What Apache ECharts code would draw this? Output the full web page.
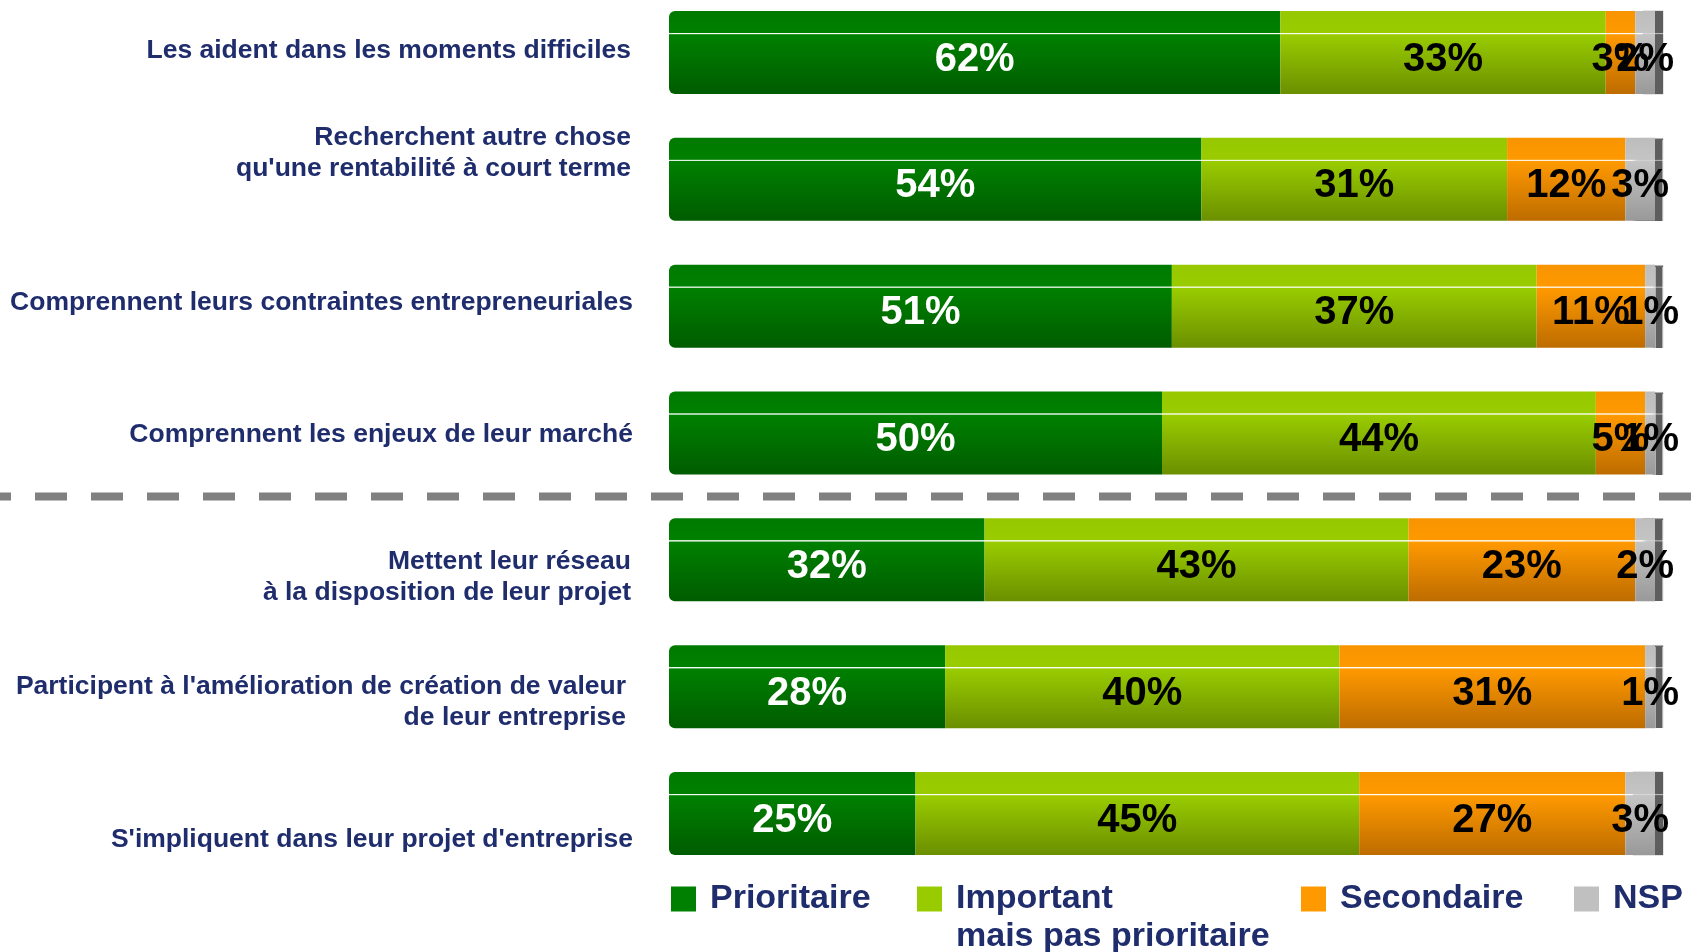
<!DOCTYPE html>
<html>
<head>
<meta charset="utf-8">
<script src="https://cdn.jsdelivr.net/npm/echarts@6/dist/echarts.min.js"></script>
<style>
  html, body { margin: 0; padding: 0; background: #fff; }
  #main { width: 1692px; height: 952px; }
</style>
</head>
<body>
<div id="main"></div>
<script>
// categories (top -> bottom)
const categories = [
  'Les aident dans les moments difficiles',
  'Recherchent autre chose\nqu\'une rentabilité à court terme',
  'Comprennent leurs contraintes entrepreneuriales',
  'Comprennent les enjeux de leur marché',
  'Mettent leur réseau\nà la disposition de leur projet',
  'Participent à l\'amélioration de création de valeur\nde leur entreprise',
  'S\'impliquent dans leur projet d\'entreprise'
]
const prioritaire = [62, 54, 51, 50, 32, 28, 25]
const important = [33, 31, 37, 44, 43, 40, 45]
const secondaire = [3, 12, 11, 5, 23, 31, 27]
const nsp = [2, 3, 1, 1, 2, 1, 3]

const navy = '#1f2d6d'
const boldFont = "'Liberation Sans', Arial, sans-serif"

// shift of each row label from the bar centre [dx, dy]
const labelShift = [[0, -2], [0, -26], [2, -3], [2, 2], [0, 17], [-5, 16], [2, 26]]

function grad (top, mid, bottom) {
  return new echarts.graphic.LinearGradient(0, 0, 0, 1, [
    { offset: 0, color: top },
    { offset: 0.26, color: mid },
    { offset: 0.27, color: 'rgba(255,255,255,0.4)' },
    { offset: 0.285, color: mid },
    { offset: 1, color: bottom }
  ])
}

function barLabel (color) {
  return {
    show: true,
    position: 'inside',
    formatter: '{c}%',
    offset: [0, 7],
    color: color,
    fontFamily: boldFont,
    fontWeight: 'bold',
    fontSize: 40
  }
}

const chart = echarts.init(document.getElementById('main'))

const legendText = {
  color: navy,
  fontFamily: boldFont,
  fontWeight: 'bold',
  fontSize: 34,
  lineHeight: 38,
  padding: [0, 0, 0, 9]
}

function legendAt (left, name, color, extra) {
  return Object.assign({
    left: left,
    top: 875,
    orient: 'horizontal',
    itemWidth: 25,
    itemHeight: 25,
    icon: 'rect',
    selectedMode: false,
    textStyle: legendText,
    data: [{ name: name, itemStyle: { color: color } }]
  }, extra || {})
}

chart.setOption({
  animation: false,
  grid: { left: 669, width: 986, top: 52.5, height: 761 },
  xAxis: { type: 'value', min: 0, max: 100, show: false },
  yAxis: {
    type: 'category',
    data: categories,
    inverse: true,
    boundaryGap: false,
    axisLine: { show: false },
    axisTick: { show: false },
    axisLabel: { show: false }
  },
  legend: [
    legendAt(666, 'Prioritaire', '#008000'),
    // square sits on the first text line of a two line name
    legendAt(912, 'Important mais pas prioritaire', '#99cc00', {
      itemHeight: 63,
      icon: 'path://M0,0H25V25H0Z M0,63L0.01,63',
      formatter: 'Important\nmais pas prioritaire'
    }),
    legendAt(1296, 'Secondaire', '#ff9900'),
    legendAt(1569, 'NSP', '#c0c0c0')
  ],
  series: [
    {
      name: 'Prioritaire',
      type: 'bar',
      stack: 'total',
      barWidth: 83,
      data: prioritaire,
      itemStyle: { color: grad('#007a00', '#008000', '#005c00'), borderRadius: [6, 0, 0, 6] },
      label: barLabel('#ffffff')
    },
    {
      name: 'Important mais pas prioritaire',
      type: 'bar',
      stack: 'total',
      data: important,
      itemStyle: { color: grad('#97c800', '#99cc00', '#6b8f00') },
      label: barLabel('#000000')
    },
    {
      name: 'Secondaire',
      type: 'bar',
      stack: 'total',
      data: secondaire,
      itemStyle: { color: grad('#f79400', '#ff9900', '#bd6c00') },
      label: barLabel('#000000')
    },
    {
      name: 'NSP',
      type: 'bar',
      stack: 'total',
      data: nsp,
      itemStyle: {
        color: grad('#bdbdbd', '#c4c4c4', '#999999'),
        shadowColor: '#5e5e5e',
        shadowOffsetX: 8,
        shadowBlur: 1
      },
      label: barLabel('#000000')
    }
  ]
})

// row labels and the dashed separator, placed with the category axis
const rowTexts = categories.map(function (name, i) {
  const y = chart.convertToPixel({ yAxisIndex: 0 }, i)
  return {
    type: 'text',
    x: 631 + labelShift[i][0],
    y: y + labelShift[i][1],
    style: {
      text: name,
      align: 'right',
      verticalAlign: 'middle',
      fill: navy,
      fontFamily: boldFont,
      fontWeight: 'bold',
      fontSize: 26.5,
      lineHeight: 31
    }
  }
})
const sepY = (chart.convertToPixel({ yAxisIndex: 0 }, 3) + chart.convertToPixel({ yAxisIndex: 0 }, 4)) / 2
rowTexts.push({
  type: 'line',
  shape: { x1: 0, y1: sepY, x2: 1692, y2: sepY },
  style: { stroke: '#808080', lineWidth: 8, lineDash: [32, 24], lineDashOffset: 21 }
})
chart.setOption({ graphic: rowTexts })
</script>
</body>
</html>
